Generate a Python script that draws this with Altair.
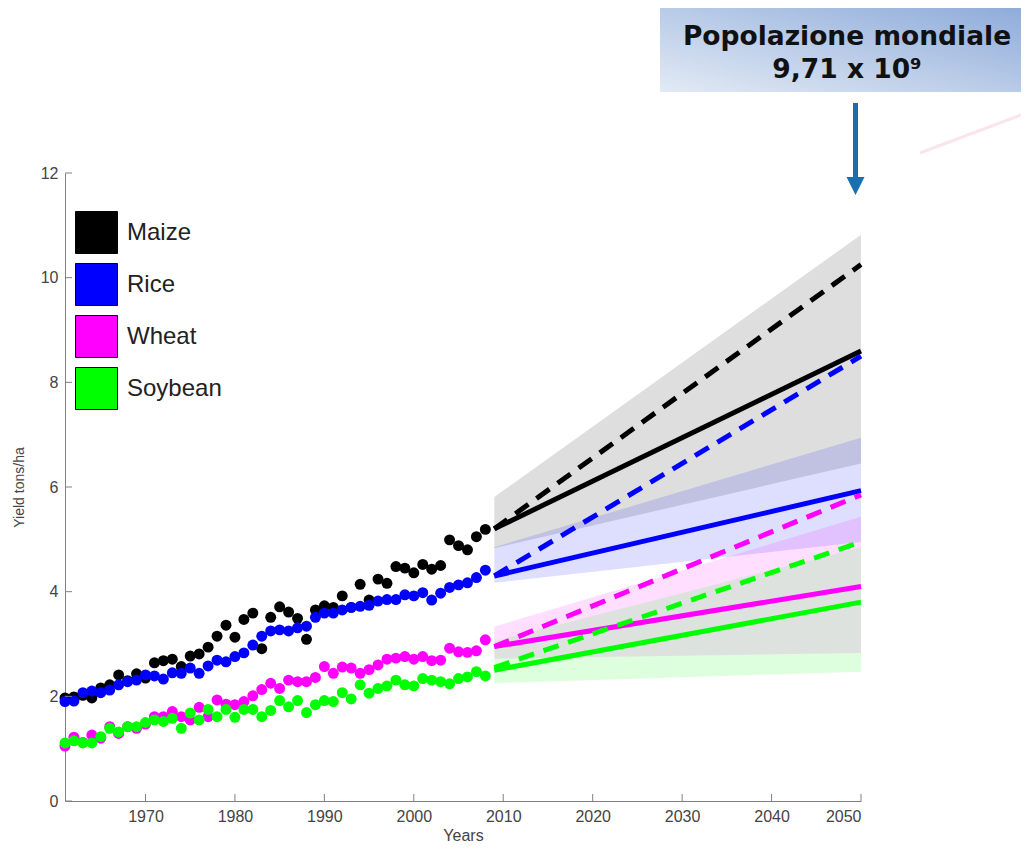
import altair as alt
import pandas as pd

# ---------------- data ----------------
years = list(range(1961, 2009))
maize = [1.97, 1.99, 2.02, 1.97, 2.16, 2.22, 2.41, 2.30, 2.43, 2.35,
         2.64, 2.68, 2.71, 2.57, 2.77, 2.81, 2.94, 3.15, 3.36, 3.13,
         3.47, 3.59, 2.91, 3.51, 3.71, 3.61, 3.49, 3.09, 3.65, 3.73,
         3.70, 3.92, 3.70, 4.14, 3.84, 4.24, 4.16, 4.48, 4.45, 4.36,
         4.52, 4.43, 4.50, 4.99, 4.88, 4.80, 5.05, 5.19]
rice = [1.90, 1.91, 2.07, 2.10, 2.07, 2.12, 2.22, 2.28, 2.31, 2.41,
        2.39, 2.33, 2.45, 2.44, 2.54, 2.44, 2.58, 2.69, 2.66, 2.76,
        2.83, 2.98, 3.15, 3.25, 3.27, 3.25, 3.31, 3.34, 3.51, 3.59,
        3.59, 3.65, 3.70, 3.72, 3.74, 3.82, 3.85, 3.85, 3.94, 3.92,
        3.98, 3.84, 3.97, 4.08, 4.13, 4.17, 4.27, 4.41]
wheat = [1.05, 1.22, 1.12, 1.26, 1.20, 1.42, 1.29, 1.42, 1.39, 1.47,
         1.61, 1.61, 1.71, 1.61, 1.55, 1.79, 1.61, 1.93, 1.85, 1.84,
         1.90, 2.01, 2.13, 2.25, 2.15, 2.31, 2.28, 2.28, 2.36, 2.57,
         2.44, 2.56, 2.54, 2.44, 2.51, 2.60, 2.71, 2.73, 2.76, 2.71,
         2.76, 2.68, 2.69, 2.92, 2.85, 2.84, 2.87, 3.08]
soybean = [1.11, 1.15, 1.11, 1.11, 1.23, 1.39, 1.32, 1.42, 1.42, 1.50,
           1.55, 1.52, 1.58, 1.39, 1.68, 1.55, 1.75, 1.61, 1.75, 1.60,
           1.75, 1.75, 1.61, 1.73, 1.92, 1.80, 1.92, 1.69, 1.84, 1.92,
           1.90, 2.07, 1.95, 2.22, 2.06, 2.15, 2.20, 2.31, 2.22, 2.20,
           2.34, 2.31, 2.28, 2.24, 2.34, 2.37, 2.47, 2.39]

crops = ["Maize", "Rice", "Wheat", "Soybean"]
crop_colors = ["#000000", "#0000ff", "#ff00ff", "#00ff00"]

proj_years = [2009, 2050]
trend_maize, trend_rice, trend_wheat, trend_soy = [5.2, 8.6], [4.3, 5.93], [2.95, 4.1], [2.5, 3.8]
need_maize, need_rice, need_wheat, need_soy = [5.2, 10.25], [4.3, 8.5], [2.95, 5.85], [2.55, 4.95]
low_maize, low_rice, low_wheat, low_soy = [4.83, 6.45], [4.17, 4.95], [2.72, 2.83], [2.25, 2.47]
high_maize, high_rice, high_wheat, high_soy = [5.81, 10.82], [4.85, 6.94], [3.33, 5.43], [3.05, 4.85]

x_ticks = [1970, 1980, 1990, 2000, 2010, 2020, 2030, 2040, 2050]
y_ticks = [0, 2, 4, 6, 8, 10, 12]

# ---------------- tables ----------------
hist_series = [maize, rice, wheat, soybean]
hist = pd.DataFrame(
    [{"crop": c, "year": y, "value": v} for c, s in zip(crops, hist_series) for y, v in zip(years, s)]
)

trend = [trend_maize, trend_rice, trend_wheat, trend_soy]
need = [need_maize, need_rice, need_wheat, need_soy]
low = [low_maize, low_rice, low_wheat, low_soy]
high = [high_maize, high_rice, high_wheat, high_soy]
proj = pd.DataFrame(
    [{"crop": c, "col": col, "year": proj_years[i], "trend": t[i], "need": n[i], "low": lo[i], "high": hi[i]}
     for c, col, t, n, lo, hi in zip(crops, crop_colors, trend, need, low, high) for i in range(2)]
)

xt = pd.DataFrame({"year": x_ticks})
yt = pd.DataFrame({"value": y_ticks})
one = pd.DataFrame({"a": [0]})

FONT = "Liberation Sans"
AX = "#808080"
color_scale = alt.Scale(domain=crops, range=crop_colors)

x_enc = alt.X("year:Q", scale=alt.Scale(domain=[1961, 2050], nice=False, zero=False),
              axis=alt.Axis(values=x_ticks, format="d", ticks=False, grid=False,
                            domainColor=AX, labelColor="#444", labelFont=FONT, labelFontSize=16,
                            labelPadding=7, title="Years", titleFont=FONT, titleFontSize=16,
                            titleFontWeight="normal", titleColor="#444", titlePadding=3))
y_axis = alt.Axis(values=y_ticks, ticks=False, grid=False, domainColor=AX, labelColor="#444",
                  labelFont=FONT, labelFontSize=16, labelPadding=7, title="Yield tons/ha",
                  titleFont=FONT, titleFontSize=14, titleFontWeight="normal", titleColor="#444",
                  titlePadding=14)
y_scale = alt.Scale(domain=[0, 12], nice=False)

legend = alt.Legend(
    title=None, orient="none", legendX=10, legendY=38,
    symbolType="square", symbolSize=1764, symbolStrokeColor="black", symbolStrokeWidth=1,
    symbolOpacity=1, labelFont=FONT, labelFontSize=24, labelColor="#222",
    labelBaseline="middle", rowPadding=5, labelOffset=9,
)

# historical observations (drawn first; they do not overlap the projections)
points = alt.Chart(hist).mark_circle(size=120, opacity=1).encode(
    x=x_enc,
    y=alt.Y("value:Q", scale=y_scale, axis=y_axis),
    color=alt.Color("crop:N", scale=color_scale, sort=crops, legend=legend),
)

bands = alt.Chart(proj).mark_area(fillOpacity=0.13).encode(
    x="year:Q",
    y=alt.Y("low:Q", stack=None),
    y2="high:Q",
    fill=alt.Fill("col:N", scale=None),
    detail="crop:N",
)

trend_lines = alt.Chart(proj).mark_line(strokeWidth=5).encode(
    x="year:Q", y="trend:Q", stroke=alt.Stroke("col:N", scale=None), detail="crop:N"
)
need_lines = alt.Chart(proj).mark_line(strokeWidth=5, strokeDash=[16, 10]).encode(
    x="year:Q", y="need:Q", stroke=alt.Stroke("col:N", scale=None), detail="crop:N"
)

xtick_marks = alt.Chart(xt).mark_rule(color=AX).encode(x="year:Q", y=alt.value(628), y2=alt.value(621))
ytick_marks = alt.Chart(yt).mark_rule(color=AX).encode(y="value:Q", x=alt.value(0), x2=alt.value(7))

grad = alt.LinearGradient(gradient="linear",
                          stops=[alt.GradientStop(color="#e2eaf5", offset=0),
                                 alt.GradientStop(color="#8facda", offset=1)],
                          x1=0, y1=1, x2=1, y2=0)
box = alt.Chart(one).mark_rect(color=grad).encode(
    x=alt.value(595), x2=alt.value(956), y=alt.value(-165), y2=alt.value(-81))
t1 = alt.Chart(one).mark_text(text="Popolazione mondiale", font="DejaVu Sans", fontWeight="bold",
                              fontSize=26.5, color="#111", align="center", baseline="middle").encode(
    x=alt.value(782), y=alt.value(-136))
t2 = alt.Chart(one).mark_text(text="9,71 x 10⁹", font="DejaVu Sans", fontWeight="bold",
                              fontSize=26.5, color="#111", align="center", baseline="middle").encode(
    x=alt.value(782), y=alt.value(-103))
shaft = alt.Chart(one).mark_rule(color="#1a6fb0", strokeWidth=5).encode(
    x=alt.value(790.5), y=alt.value(-70), y2=alt.value(8))
head = alt.Chart(one).mark_point(shape="M-1,-1L1,-1L0,1Z", filled=True, size=324, opacity=1,
                                 color="#1a6fb0").encode(x=alt.value(790.5), y=alt.value(13))
swoosh = alt.Chart(one).mark_rule(color="#f6d3db", strokeWidth=3, opacity=0.6).encode(
    x=alt.value(855), x2=alt.value(956), y=alt.value(-20), y2=alt.value(-58))

chart = alt.layer(
    points, bands, trend_lines, need_lines, xtick_marks, ytick_marks,
    swoosh, box, t1, t2, shaft, head
).properties(
    width=796, height=628,
    autosize=alt.AutoSizeParams(type="none"),
    padding={"left": 57, "top": 165, "right": 160, "bottom": 43},
    background="white",
).configure_view(stroke=None)

chart.save("out.html", embed_options={"renderer": "svg", "actions": False})
